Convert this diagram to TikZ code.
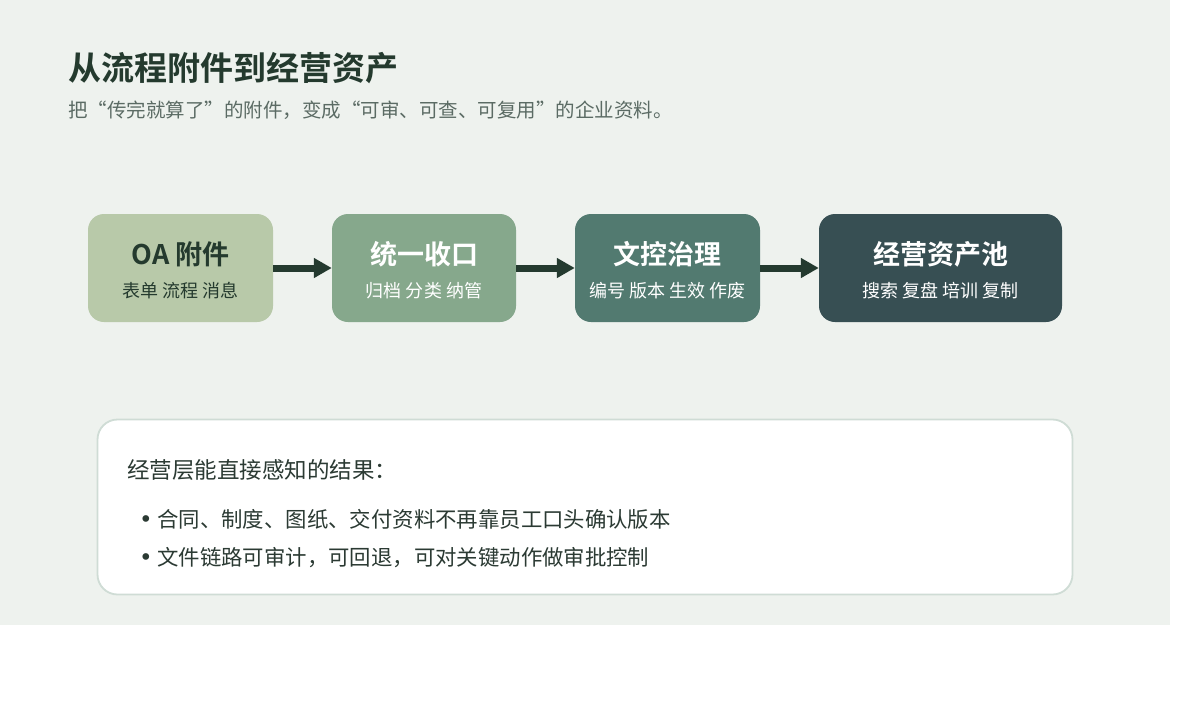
\documentclass[tikz,border=0pt]{standalone}
\usepackage{fontspec}
\setmainfont{Noto Sans CJK SC}[BoldFont={Noto Sans CJK SC Bold}]
\newfontfamily\dejavu{DejaVu Sans}
\usetikzlibrary{arrows.meta}
\definecolor{panelbg}{HTML}{EEF2EE}
\definecolor{cA}{HTML}{B8C9A9}
\definecolor{cB}{HTML}{86A88C}
\definecolor{cC}{HTML}{527A70}
\definecolor{cD}{HTML}{374F53}
\definecolor{arrowc}{HTML}{243A2F}
\definecolor{titlec}{HTML}{243A2E}
\definecolor{subc}{HTML}{5B6B64}
\definecolor{cardline}{HTML}{CFDCD5}
\definecolor{cardtext}{HTML}{2B3A33}
\tikzset{
  stage/.style={rounded corners=16pt, minimum height=108pt, inner sep=0pt, draw=none},
  stagetitle/.style={anchor=base, font=\bfseries\fontsize{27}{30}\selectfont, inner sep=0pt},
  stagesub/.style={anchor=base, font=\fontsize{18}{20}\selectfont, inner sep=0pt},
  flow/.style={arrowc, line width=7pt, -{Triangle[length=18pt,width=19pt]}},
  cardbox/.style={draw=cardline, line width=1.8pt, fill=white, rounded corners=20pt},
  cardtxt/.style={anchor=base west, inner sep=0pt, text=cardtext},
  bulletdot/.style={anchor=base, inner sep=0pt, text=cardtext, font=\dejavu\fontsize{23}{26}\selectfont},
}
\begin{document}
\begin{tikzpicture}[x=1pt,y=-1pt]
\useasboundingbox (0,0) rectangle (1200,720);
\fill[panelbg] (0,0) rectangle (1170,625);

\node[anchor=base west, inner sep=0pt, text=titlec, font=\bfseries\fontsize{33}{36}\selectfont] (title) at (68,80.5) {从流程附件到经营资产};
\node[anchor=base west, inner sep=0pt, text=subc, font=\fontsize{19.5}{22}\selectfont] (subtitle) at (68,117) {把“传完就算了”的附件，变成“可审、可查、可复用”的企业资料。};

\node[stage, fill=cA, minimum width=185pt] (b1) at (180.5,268) {};
\node[stage, fill=cB, minimum width=184pt] (b2) at (424,268) {};
\node[stage, fill=cC, minimum width=185pt] (b3) at (667.5,268) {};
\node[stage, fill=cD, minimum width=243pt] (b4) at (940.5,268) {};

\node[stagetitle, text=titlec] (t1) at (180.5,264) {OA 附件};
\node[stagesub, text=titlec] (s1) at (180.5,297) {表单 流程 消息};
\node[stagetitle, text=white] (t2) at (424,264) {统一收口};
\node[stagesub, text=white] (s2) at (424,297) {归档 分类 纳管};
\node[stagetitle, text=white] (t3) at (667.5,264) {文控治理};
\node[stagesub, text=white] (s3) at (667.5,297) {编号 版本 生效 作废};
\node[stagetitle, text=white] (t4) at (940.5,264) {经营资产池};
\node[stagesub, text=white] (s4) at (940.5,297) {搜索 复盘 培训 复制};

\draw[flow] (b1.east) -- (b2.west);
\draw[flow] (b2.east) -- (b3.west);
\draw[flow] (b3.east) -- (b4.west);

\draw[cardbox] (97.5,419.5) rectangle (1072.5,594.5);
\node[cardtxt, font=\fontsize{22.5}{25}\selectfont] (head) at (127,478.5) {经营层能直接感知的结果：};
\node[bulletdot] (d1) at (146,527) {•};
\node[cardtxt, font=\fontsize{21.4}{24}\selectfont] (l1) at (157,527) {合同、制度、图纸、交付资料不再靠员工口头确认版本};
\node[bulletdot] (d2) at (146,565) {•};
\node[cardtxt, font=\fontsize{21.4}{24}\selectfont] (l2) at (157,565) {文件链路可审计，可回退，可对关键动作做审批控制};
\end{tikzpicture}
\end{document}
